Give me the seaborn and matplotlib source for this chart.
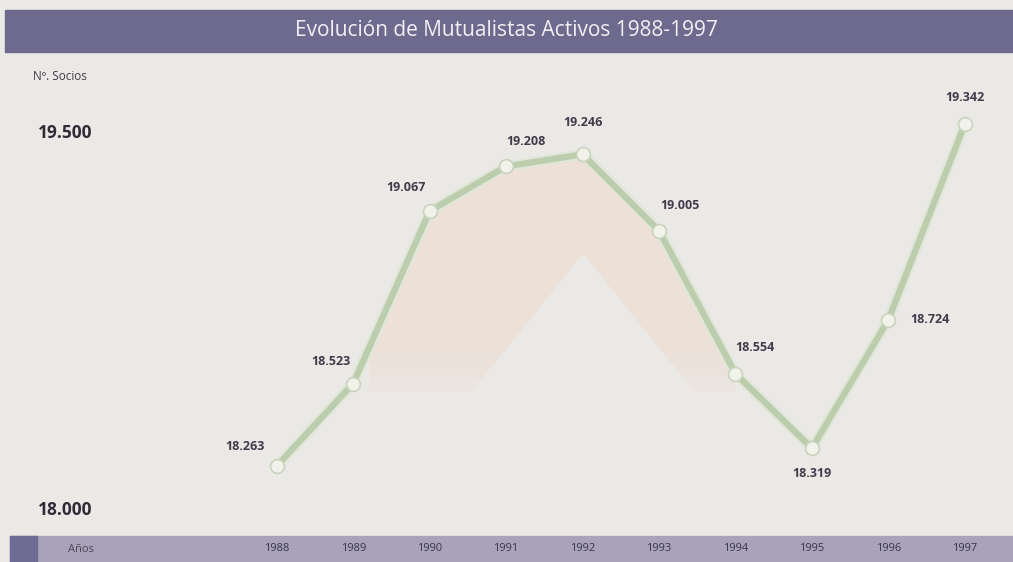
import matplotlib
matplotlib.use("Agg")
import matplotlib.pyplot as plt
from matplotlib.patches import Rectangle
import seaborn as sns
import pandas as pd
import numpy as np

years = [1988, 1989, 1990, 1991, 1992, 1993, 1994, 1995, 1996, 1997]
socios = [18263, 18523, 19067, 19208, 19246, 19005, 18554, 18319, 18724, 19342]
# label offsets (points) per year
lab_dx = [-23, -16, -17, 14, 0, 15, 14, 0, 30, 0]
lab_dy = [14, 16, 17, 18, 23, 18, 19, -18, 0, 19]
title = "Evolución de Mutualistas Activos 1988-1997"
y_top_lab = "19.500"
y_bot_lab = "18.000"

df = pd.DataFrame({"year": years, "socios": socios})

sns.set_theme(style="white")
plt.rcParams["font.family"] = ["Open Sans", "DejaVu Sans"]

bg = "#ebe9e6"
fig = plt.figure(figsize=(10.13, 5.62), dpi=100, facecolor=bg)
ax = fig.add_axes([0, 0, 1, 1])
ax.set_facecolor(bg)
ax.set_xlim(1984.38, 1997.63)
ax.set_ylim(17960, 19733)

# faint pink chevron behind the peak (decoration hanging under the line),
# fading out towards its lower end
xs = np.linspace(1989.2, 1994.0, 200)
top = np.interp(xs, df.year, df.socios)
apex = 19246 - 310
inner = apex - np.abs(xs - 1992.0) * 300
for k, fl in enumerate([18640, 18590, 18545, 18500]):
    low = np.maximum(inner, fl)
    ax.fill_between(xs, top, low, where=top > low, color="#ede0d7", lw=0,
                    alpha=0.45 if k else 1.0, zorder=1)

# line with a light rim
ax.plot(df.year, df.socios, color="#e0e7d8", lw=7.5, zorder=3,
        solid_capstyle="round")
sns.lineplot(data=df, x="year", y="socios", ax=ax, color="#bccdae",
             lw=4.5, zorder=4, marker="o", markersize=10,
             markerfacecolor="#f1f2ea", markeredgecolor="#c9d3bd",
             markeredgewidth=1.2)

for x, v, dx, dy in zip(years, socios, lab_dx, lab_dy):
    ax.annotate(f"{v:,}".replace(",", "."), (x, v), xytext=(dx, dy),
                textcoords="offset points", ha="center", va="center",
                fontsize=9, fontweight="bold", color="#3f3b4a", zorder=6)

# title bar
ax.add_patch(Rectangle((0.005, 1 - 52 / 562), 0.995, 42 / 562,
                       transform=ax.transAxes, color="#6d6a8e", zorder=5))
ax.text(0.5, 1 - 31 / 562, title, transform=ax.transAxes, ha="center",
        va="center", fontsize=15, color="#f2f0f4", zorder=6)

# bottom bar with years
ax.add_patch(Rectangle((0.01, 0), 0.99, 26 / 562, transform=ax.transAxes,
                       color="#a9a3b9", zorder=5))
ax.add_patch(Rectangle((0.01, 0), 0.027, 26 / 562, transform=ax.transAxes,
                       color="#6e6b95", zorder=5))
ax.text(0.067, 13 / 562, "Años", transform=ax.transAxes, va="center",
        fontsize=8, color="#4a4658", zorder=6)
ax.set_xticks(years)
ax.set_xticklabels([str(y) for y in years], fontsize=8, color="#38344a")
ax.tick_params(axis="x", direction="in", pad=-14, length=0)
ax.xaxis.set_zorder(8)
ax.set_yticks([])
ax.set_xlabel("")
ax.set_ylabel("")

# y labels
ax.text(33 / 1013, 1 - 76 / 562, "Nº. Socios", transform=ax.transAxes,
        va="center", fontsize=8.5, color="#3f3b4a")
ax.text(38 / 1013, 1 - 133 / 562, y_top_lab, transform=ax.transAxes,
        va="center", fontsize=12.5, fontweight="bold", color="#2f2c38")
ax.text(38 / 1013, 1 - 510 / 562, y_bot_lab, transform=ax.transAxes,
        va="center", fontsize=12.5, fontweight="bold", color="#2f2c38")

for s in ax.spines.values():
    s.set_visible(False)

fig.savefig("out.png", dpi=100, facecolor=bg)
